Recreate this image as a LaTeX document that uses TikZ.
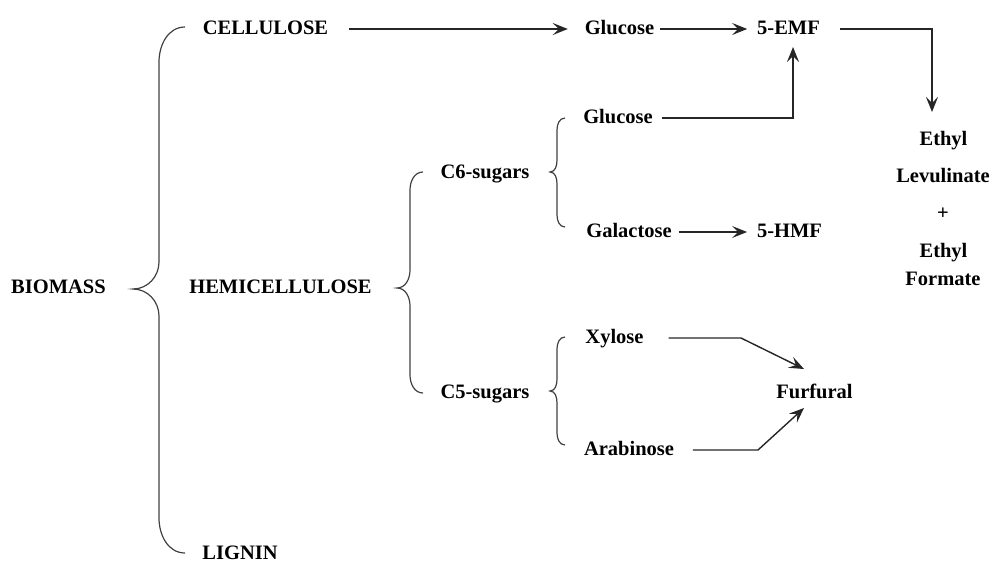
\documentclass[tikz,border=0pt]{standalone}
\usepackage{fontspec}
\setmainfont{Liberation Serif}
\usetikzlibrary{arrows.meta}
\begin{document}
\begin{tikzpicture}[x=1pt,y=-1pt,
  lbl/.style={inner sep=0pt,outer sep=0pt,anchor=base,text height=13pt,text depth=3pt,
    font=\fontsize{20.5}{24}\selectfont\bfseries},
  conn/.style={line width=1.4pt,draw=black!85},
  arr/.style={conn,-{Stealth[length=15pt,width=12pt,inset=6pt]}},
  brace/.style={line width=1.2pt,draw=black!75}]
\useasboundingbox (0,0) rectangle (993,563);
% nodes
\node[lbl] (bio)  at (58.5,293) {BIOMASS};
\node[lbl] (cell) at (265.5,34) {CELLULOSE};
\node[lbl] (hemi) at (280.5,293) {HEMICELLULOSE};
\node[lbl] (lig)  at (240,559) {LIGNIN};
\node[lbl] (glua) at (619.5,34) {Glucose};
\node[lbl] (emf)  at (788.5,34) {5-EMF};
\node[lbl] (c6)   at (485,178) {C6-sugars};
\node[lbl] (c5)   at (485,398) {C5-sugars};
\node[lbl] (glub) at (618,123) {Glucose};
\node[lbl] (gal)  at (629,237) {Galactose};
\node[lbl] (hmf)  at (789.5,237) {5-HMF};
\node[lbl] (xyl)  at (614.5,343) {Xylose};
\node[lbl] (ara)  at (629,455) {Arabinose};
\node[lbl] (furf) at (814.5,398) {Furfural};
\node[lbl] (eth1) at (943.5,145) {Ethyl};
\node[lbl] (lev)  at (943,182) {Levulinate};
\node[lbl] (plus) at (943,219) {+};
\node[lbl] (eth2) at (943.5,257) {Ethyl};
\node[lbl] (form) at (943,285) {Formate};
% braces
\draw[brace] (185,27) to[out=180,in=90] (159,62) -- (159,262) to[out=-90,in=0] (133,289)
  to[out=0,in=90] (159,316) -- (159,518) to[out=-90,in=180] (185,553);
\draw[brace] (423,172) to[out=180,in=90] (410,190) -- (410,270) to[out=-90,in=0] (397,288)
  to[out=0,in=90] (410,306) -- (410,375) to[out=-90,in=180] (423,393);
\draw[brace] (565,118) to[out=180,in=90] (557,130) -- (557,160) to[out=-90,in=0] (550,172)
  to[out=0,in=90] (557,184) -- (557,215) to[out=-90,in=180] (565,227);
\draw[brace] (565,337) to[out=180,in=90] (557,349) -- (557,379) to[out=-90,in=0] (550,391)
  to[out=0,in=90] (557,403) -- (557,433) to[out=-90,in=180] (565,445);
% connectors
\draw[arr,shorten <=21pt,shorten >=17pt] (cell.east) -- (glua.west);
\draw[arr,shorten <=6pt,shorten >=10pt] (glua.east) -- (emf.west);
\draw[arr,shorten <=7pt,shorten >=10pt] (gal.east) -- (hmf.west);
\draw[arr,shorten <=20pt] (emf.east) -| ([xshift=-11.5pt,yshift=20pt]eth1.north);
\draw[arr,shorten <=9pt] (glub.east) -| ([xshift=4.5pt,yshift=-10pt]emf.south);
\coordinate (xk) at (741,338);
\coordinate (ak) at (758,450);
\draw[arr,shorten <=25pt] (xyl.east) -- (xk) -- ([xshift=-10.5pt,yshift=16pt]furf.north);
\draw[arr,shorten <=19pt] (ara.east) -- (ak) -- ([xshift=-10.5pt,yshift=-7pt]furf.south);
\end{tikzpicture}
\end{document}
